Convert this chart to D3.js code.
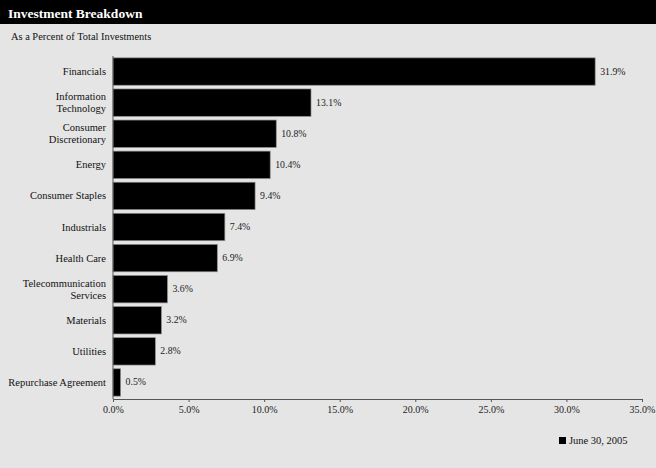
<!DOCTYPE html>
<html><head><meta charset="utf-8">
<script src="https://cdn.jsdelivr.net/npm/d3@7"></script>
<style>body{margin:0;background:#e5e5e5;}svg{display:block;}</style>
</head><body>
<script>
const categories = ["Financials","Information\nTechnology","Consumer\nDiscretionary","Energy","Consumer Staples","Industrials","Health Care","Telecommunication\nServices","Materials","Utilities","Repurchase Agreement"];
const values = [31.9,13.1,10.8,10.4,9.4,7.4,6.9,3.6,3.2,2.8,0.5];
const tickValues = [0,5,10,15,20,25,30,35];
const seriesName = "June 30, 2005";
const title = "Investment Breakdown";
const subtitle = "As a Percent of Total Investments";

const W = 656, H = 468;
const font = "'Liberation Serif','Times New Roman',serif";
const svg = d3.select("body").append("svg").attr("width", W).attr("height", H);
svg.append("rect").attr("width", W).attr("height", H).attr("fill", "#e5e5e5");
svg.append("rect").attr("x",0).attr("y",0).attr("width",W).attr("height",24).attr("fill","#000");
svg.append("text").attr("x",8).attr("y",18).attr("fill","#fff").attr("font-family",font)
  .attr("font-weight","bold").attr("font-size",13.5).text(title);
svg.append("text").attr("x",11).attr("y",40).attr("fill","#111").attr("font-family",font)
  .attr("font-size",10.4).text(subtitle);

const x = d3.scaleLinear().domain([0,35]).range([113,642]);
const y = d3.scaleBand().domain(categories).range([56,398]).paddingInner(0.12).paddingOuter(0.06);

const g = svg.append("g");
g.selectAll("rect.bar").data(values).join("rect").attr("class","bar")
  .attr("x", x(0)).attr("y",(d,i)=>y(categories[i]))
  .attr("width",d=>x(d)-x(0)).attr("height",y.bandwidth())
  .attr("fill","#000").attr("stroke","#8a8a8a").attr("stroke-width",0.7);

g.selectAll("text.val").data(values).join("text").attr("class","val")
  .attr("x",d=>x(d)+5).attr("y",(d,i)=>y(categories[i])+y.bandwidth()/2+3)
  .attr("font-family",font).attr("font-size",9.8).attr("fill","#222")
  .text(d=>d.toFixed(1)+"%");

categories.forEach((c,i)=>{
  const lines = c.split("\n");
  const cy = y(c)+y.bandwidth()/2;
  const t = svg.append("text").attr("text-anchor","end").attr("font-family",font)
    .attr("font-size",10.5).attr("fill","#111");
  lines.forEach((l,j)=>{
    t.append("tspan").attr("x",106).attr("y",cy+3.5+(j-(lines.length-1)/2)*12).text(l);
  });
});

// y axis line
svg.append("line").attr("x1",x(0)).attr("x2",x(0)).attr("y1",56).attr("y2",399)
  .attr("stroke","#555").attr("stroke-width",1);

const xAxis = svg.append("g").attr("transform","translate(0,399)")
  .call(d3.axisBottom(x).tickValues(tickValues).tickSize(3).tickSizeOuter(0).tickFormat(d=>d.toFixed(1)+"%"));
xAxis.select(".domain").attr("stroke","#555");
xAxis.selectAll(".tick line").attr("stroke","#555");
xAxis.selectAll("text").attr("font-family",font).attr("font-size",10).attr("fill","#222").attr("dy","0.8em");

svg.append("rect").attr("x",559).attr("y",437).attr("width",7).attr("height",7).attr("fill","#000");
svg.append("text").attr("x",569).attr("y",444).attr("font-family",font).attr("font-size",10.5)
  .attr("fill","#111").text(seriesName);
</script>
</body></html>
